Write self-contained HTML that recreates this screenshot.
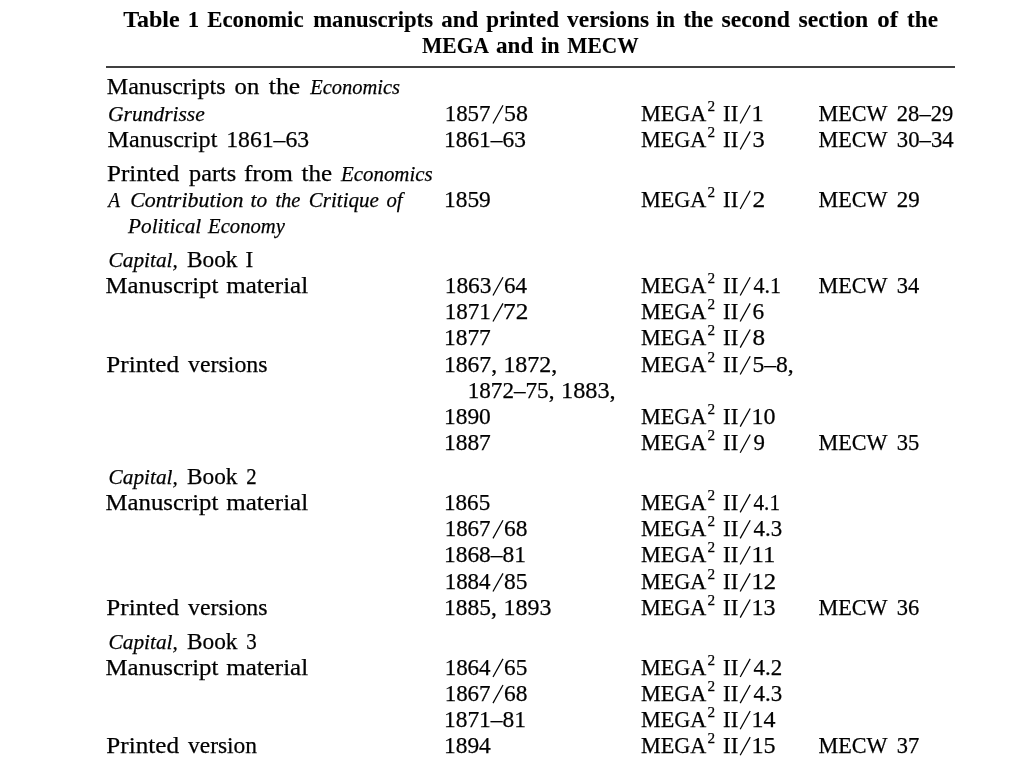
<!DOCTYPE html>
<html><head><meta charset="utf-8"><style>
html,body{margin:0;padding:0;background:#fff}
svg{position:absolute;left:0;top:0;will-change:transform}
text{font-family:"Liberation Serif",serif;font-size:23.5px;fill:#000;stroke:#000;stroke-width:0.25px;white-space:pre}
.b{font-weight:bold;stroke-width:0.1px}
.i{font-style:italic;font-size:21.8px}
.sup{font-size:15px}
html,body{width:1024px;height:768px;overflow:hidden}
</style></head><body>
<svg width="1024" height="768" viewBox="0 0 1024 768">
<rect x="106" y="66" width="849" height="2" fill="#404040"/>
<text x="123.20" y="26.50" class="b" textLength="56.41" lengthAdjust="spacingAndGlyphs">Table</text>
<text x="187.80" y="26.50" class="b" textLength="11.41" lengthAdjust="spacingAndGlyphs">1</text>
<text x="207.20" y="26.50" class="b" textLength="96.37" lengthAdjust="spacingAndGlyphs">Economic</text>
<text x="313.20" y="26.50" class="b" textLength="119.82" lengthAdjust="spacingAndGlyphs">manuscripts</text>
<text x="441.30" y="26.50" class="b" textLength="36.95" lengthAdjust="spacingAndGlyphs">and</text>
<text x="486.20" y="26.50" class="b" textLength="72.74" lengthAdjust="spacingAndGlyphs">printed</text>
<text x="567.10" y="26.50" class="b" textLength="81.96" lengthAdjust="spacingAndGlyphs">versions</text>
<text x="656.20" y="26.50" class="b" textLength="18.74" lengthAdjust="spacingAndGlyphs">in</text>
<text x="683.40" y="26.50" class="b" textLength="29.87" lengthAdjust="spacingAndGlyphs">the</text>
<text x="721.40" y="26.50" class="b" textLength="68.65" lengthAdjust="spacingAndGlyphs">second</text>
<text x="798.50" y="26.50" class="b" textLength="69.72" lengthAdjust="spacingAndGlyphs">section</text>
<text x="877.30" y="26.50" class="b" textLength="20.77" lengthAdjust="spacingAndGlyphs">of</text>
<text x="907.00" y="26.50" class="b" textLength="30.94" lengthAdjust="spacingAndGlyphs">the</text>
<text x="422.10" y="52.70" class="b" textLength="66.83" lengthAdjust="spacingAndGlyphs">MEGA</text>
<text x="496.00" y="52.70" class="b" textLength="37.23" lengthAdjust="spacingAndGlyphs">and</text>
<text x="541.10" y="52.70" class="b" textLength="18.45" lengthAdjust="spacingAndGlyphs">in</text>
<text x="567.30" y="52.70" class="b" textLength="71.26" lengthAdjust="spacingAndGlyphs">MECW</text>
<text x="106.80" y="94.00" class="r" textLength="118.75" lengthAdjust="spacingAndGlyphs">Manuscripts</text>
<text x="234.60" y="94.00" class="r" textLength="24.70" lengthAdjust="spacingAndGlyphs">on</text>
<text x="268.80" y="94.00" class="r" textLength="31.41" lengthAdjust="spacingAndGlyphs">the</text>
<text x="310.30" y="94.00" class="i" textLength="89.76" lengthAdjust="spacingAndGlyphs">Economics</text>
<text x="108.10" y="121.07" class="i" textLength="96.66" lengthAdjust="spacingAndGlyphs">Grundrisse</text>
<text x="444.70" y="121.07" class="r" textLength="45.81" lengthAdjust="spacingAndGlyphs">1857</text>
<line x1="493.00" y1="123.47" x2="503.00" y2="105.27" stroke="#000" stroke-width="1.25"/>
<text x="504.10" y="121.07" class="r" textLength="23.92" lengthAdjust="spacingAndGlyphs">58</text>
<text x="641.00" y="121.07" class="r" textLength="65.38" lengthAdjust="spacingAndGlyphs">MEGA</text>
<text x="707.50" y="111.07" class="sup" textLength="7.60" lengthAdjust="spacingAndGlyphs">2</text>
<text x="723.10" y="121.07" class="r" textLength="15.20" lengthAdjust="spacingAndGlyphs">II</text>
<line x1="740.20" y1="123.47" x2="750.20" y2="105.27" stroke="#000" stroke-width="1.25"/>
<text x="751.50" y="121.07" class="r" textLength="12.15" lengthAdjust="spacingAndGlyphs">1</text>
<text x="818.50" y="121.07" class="r" textLength="68.99" lengthAdjust="spacingAndGlyphs">MECW</text>
<text x="896.80" y="121.07" class="r" textLength="56.52" lengthAdjust="spacingAndGlyphs">28–29</text>
<text x="107.50" y="147.14" class="r" textLength="109.88" lengthAdjust="spacingAndGlyphs">Manuscript</text>
<text x="226.20" y="147.14" class="r" textLength="82.98" lengthAdjust="spacingAndGlyphs">1861–63</text>
<text x="444.00" y="147.14" class="r" textLength="81.90" lengthAdjust="spacingAndGlyphs">1861–63</text>
<text x="641.00" y="147.14" class="r" textLength="65.38" lengthAdjust="spacingAndGlyphs">MEGA</text>
<text x="707.50" y="137.14" class="sup" textLength="7.60" lengthAdjust="spacingAndGlyphs">2</text>
<text x="723.10" y="147.14" class="r" textLength="15.20" lengthAdjust="spacingAndGlyphs">II</text>
<line x1="740.20" y1="149.54" x2="750.20" y2="131.34" stroke="#000" stroke-width="1.25"/>
<text x="752.50" y="147.14" class="r" textLength="12.27" lengthAdjust="spacingAndGlyphs">3</text>
<text x="818.50" y="147.14" class="r" textLength="68.99" lengthAdjust="spacingAndGlyphs">MECW</text>
<text x="896.80" y="147.14" class="r" textLength="56.84" lengthAdjust="spacingAndGlyphs">30–34</text>
<text x="107.00" y="180.51" class="r" textLength="72.38" lengthAdjust="spacingAndGlyphs">Printed</text>
<text x="189.00" y="180.51" class="r" textLength="47.17" lengthAdjust="spacingAndGlyphs">parts</text>
<text x="243.90" y="180.51" class="r" textLength="48.99" lengthAdjust="spacingAndGlyphs">from</text>
<text x="301.50" y="180.51" class="r" textLength="30.65" lengthAdjust="spacingAndGlyphs">the</text>
<text x="341.00" y="180.51" class="i" textLength="91.64" lengthAdjust="spacingAndGlyphs">Economics</text>
<text x="108.20" y="206.58" class="i" textLength="11.77" lengthAdjust="spacingAndGlyphs">A</text>
<text x="130.25" y="206.58" class="i" textLength="113.23" lengthAdjust="spacingAndGlyphs">Contribution</text>
<text x="250.60" y="206.58" class="i" textLength="16.66" lengthAdjust="spacingAndGlyphs">to</text>
<text x="275.40" y="206.58" class="i" textLength="25.07" lengthAdjust="spacingAndGlyphs">the</text>
<text x="308.80" y="206.58" class="i" textLength="70.09" lengthAdjust="spacingAndGlyphs">Critique</text>
<text x="386.40" y="206.58" class="i" textLength="16.10" lengthAdjust="spacingAndGlyphs">of</text>
<text x="444.00" y="206.58" class="r" textLength="46.80" lengthAdjust="spacingAndGlyphs">1859</text>
<text x="641.00" y="206.58" class="r" textLength="65.38" lengthAdjust="spacingAndGlyphs">MEGA</text>
<text x="707.50" y="196.58" class="sup" textLength="7.60" lengthAdjust="spacingAndGlyphs">2</text>
<text x="723.10" y="206.58" class="r" textLength="15.20" lengthAdjust="spacingAndGlyphs">II</text>
<line x1="740.20" y1="208.98" x2="750.20" y2="190.78" stroke="#000" stroke-width="1.25"/>
<text x="752.50" y="206.58" class="r" textLength="12.75" lengthAdjust="spacingAndGlyphs">2</text>
<text x="818.50" y="206.58" class="r" textLength="68.99" lengthAdjust="spacingAndGlyphs">MECW</text>
<text x="896.80" y="206.58" class="r" textLength="22.95" lengthAdjust="spacingAndGlyphs">29</text>
<text x="128.10" y="232.65" class="i" textLength="73.16" lengthAdjust="spacingAndGlyphs">Political</text>
<text x="208.10" y="232.65" class="i" textLength="76.75" lengthAdjust="spacingAndGlyphs">Economy</text>
<text x="108.60" y="267.02" class="i" textLength="69.24" lengthAdjust="spacingAndGlyphs">Capital,</text>
<text x="187.00" y="267.02" class="r" textLength="50.49" lengthAdjust="spacingAndGlyphs">Book</text>
<text x="245.50" y="267.02" class="r" textLength="7.72" lengthAdjust="spacingAndGlyphs">I</text>
<text x="105.60" y="293.09" class="r" textLength="112.79" lengthAdjust="spacingAndGlyphs">Manuscript</text>
<text x="226.30" y="293.09" class="r" textLength="81.81" lengthAdjust="spacingAndGlyphs">material</text>
<text x="444.70" y="293.09" class="r" textLength="46.83" lengthAdjust="spacingAndGlyphs">1863</text>
<line x1="493.00" y1="295.49" x2="503.00" y2="277.29" stroke="#000" stroke-width="1.25"/>
<text x="504.10" y="293.09" class="r" textLength="22.97" lengthAdjust="spacingAndGlyphs">64</text>
<text x="641.00" y="293.09" class="r" textLength="65.38" lengthAdjust="spacingAndGlyphs">MEGA</text>
<text x="707.50" y="283.09" class="sup" textLength="7.60" lengthAdjust="spacingAndGlyphs">2</text>
<text x="723.10" y="293.09" class="r" textLength="15.20" lengthAdjust="spacingAndGlyphs">II</text>
<line x1="740.20" y1="295.49" x2="750.20" y2="277.29" stroke="#000" stroke-width="1.25"/>
<text x="753.50" y="293.09" class="r" textLength="27.49" lengthAdjust="spacingAndGlyphs">4.1</text>
<text x="818.50" y="293.09" class="r" textLength="68.99" lengthAdjust="spacingAndGlyphs">MECW</text>
<text x="896.80" y="293.09" class="r" textLength="22.50" lengthAdjust="spacingAndGlyphs">34</text>
<text x="444.70" y="319.16" class="r" textLength="46.12" lengthAdjust="spacingAndGlyphs">1871</text>
<line x1="493.00" y1="321.56" x2="503.00" y2="303.36" stroke="#000" stroke-width="1.25"/>
<text x="503.10" y="319.16" class="r" textLength="25.25" lengthAdjust="spacingAndGlyphs">72</text>
<text x="641.00" y="319.16" class="r" textLength="65.38" lengthAdjust="spacingAndGlyphs">MEGA</text>
<text x="707.50" y="309.16" class="sup" textLength="7.60" lengthAdjust="spacingAndGlyphs">2</text>
<text x="723.10" y="319.16" class="r" textLength="15.20" lengthAdjust="spacingAndGlyphs">II</text>
<line x1="740.20" y1="321.56" x2="750.20" y2="303.36" stroke="#000" stroke-width="1.25"/>
<text x="752.50" y="319.16" class="r" textLength="11.66" lengthAdjust="spacingAndGlyphs">6</text>
<text x="444.00" y="345.23" class="r" textLength="46.80" lengthAdjust="spacingAndGlyphs">1877</text>
<text x="641.00" y="345.23" class="r" textLength="65.38" lengthAdjust="spacingAndGlyphs">MEGA</text>
<text x="707.50" y="335.23" class="sup" textLength="7.60" lengthAdjust="spacingAndGlyphs">2</text>
<text x="723.10" y="345.23" class="r" textLength="15.20" lengthAdjust="spacingAndGlyphs">II</text>
<line x1="740.20" y1="347.63" x2="750.20" y2="329.43" stroke="#000" stroke-width="1.25"/>
<text x="752.50" y="345.23" class="r" textLength="12.59" lengthAdjust="spacingAndGlyphs">8</text>
<text x="106.30" y="372.10" class="r" textLength="72.69" lengthAdjust="spacingAndGlyphs">Printed</text>
<text x="188.10" y="372.10" class="r" textLength="79.38" lengthAdjust="spacingAndGlyphs">versions</text>
<text x="444.00" y="372.10" class="r" textLength="53.03" lengthAdjust="spacingAndGlyphs">1867,</text>
<text x="503.40" y="372.10" class="r" textLength="53.90" lengthAdjust="spacingAndGlyphs">1872,</text>
<text x="641.00" y="372.10" class="r" textLength="65.38" lengthAdjust="spacingAndGlyphs">MEGA</text>
<text x="707.50" y="362.10" class="sup" textLength="7.60" lengthAdjust="spacingAndGlyphs">2</text>
<text x="723.10" y="372.10" class="r" textLength="15.20" lengthAdjust="spacingAndGlyphs">II</text>
<line x1="740.20" y1="374.50" x2="750.20" y2="356.30" stroke="#000" stroke-width="1.25"/>
<text x="752.50" y="372.10" class="r" textLength="41.16" lengthAdjust="spacingAndGlyphs">5–8,</text>
<text x="467.70" y="398.17" class="r" textLength="86.77" lengthAdjust="spacingAndGlyphs">1872–75,</text>
<text x="561.00" y="398.17" class="r" textLength="54.68" lengthAdjust="spacingAndGlyphs">1883,</text>
<text x="444.00" y="424.24" class="r" textLength="46.80" lengthAdjust="spacingAndGlyphs">1890</text>
<text x="641.00" y="424.24" class="r" textLength="65.38" lengthAdjust="spacingAndGlyphs">MEGA</text>
<text x="707.50" y="414.24" class="sup" textLength="7.60" lengthAdjust="spacingAndGlyphs">2</text>
<text x="723.10" y="424.24" class="r" textLength="15.20" lengthAdjust="spacingAndGlyphs">II</text>
<line x1="740.20" y1="426.64" x2="750.20" y2="408.44" stroke="#000" stroke-width="1.25"/>
<text x="751.50" y="424.24" class="r" textLength="24.01" lengthAdjust="spacingAndGlyphs">10</text>
<text x="444.00" y="450.31" class="r" textLength="46.80" lengthAdjust="spacingAndGlyphs">1887</text>
<text x="641.00" y="450.31" class="r" textLength="65.38" lengthAdjust="spacingAndGlyphs">MEGA</text>
<text x="707.50" y="440.31" class="sup" textLength="7.60" lengthAdjust="spacingAndGlyphs">2</text>
<text x="723.10" y="450.31" class="r" textLength="15.20" lengthAdjust="spacingAndGlyphs">II</text>
<line x1="740.20" y1="452.71" x2="750.20" y2="434.51" stroke="#000" stroke-width="1.25"/>
<text x="753.50" y="450.31" class="r" textLength="11.44" lengthAdjust="spacingAndGlyphs">9</text>
<text x="818.50" y="450.31" class="r" textLength="68.99" lengthAdjust="spacingAndGlyphs">MECW</text>
<text x="896.80" y="450.31" class="r" textLength="22.55" lengthAdjust="spacingAndGlyphs">35</text>
<text x="108.60" y="483.88" class="i" textLength="69.24" lengthAdjust="spacingAndGlyphs">Capital,</text>
<text x="187.00" y="483.88" class="r" textLength="50.49" lengthAdjust="spacingAndGlyphs">Book</text>
<text x="246.20" y="483.88" class="r" textLength="10.41" lengthAdjust="spacingAndGlyphs">2</text>
<text x="105.60" y="509.95" class="r" textLength="112.79" lengthAdjust="spacingAndGlyphs">Manuscript</text>
<text x="226.30" y="509.95" class="r" textLength="81.81" lengthAdjust="spacingAndGlyphs">material</text>
<text x="444.00" y="509.95" class="r" textLength="46.19" lengthAdjust="spacingAndGlyphs">1865</text>
<text x="641.00" y="509.95" class="r" textLength="65.38" lengthAdjust="spacingAndGlyphs">MEGA</text>
<text x="707.50" y="499.95" class="sup" textLength="7.60" lengthAdjust="spacingAndGlyphs">2</text>
<text x="723.10" y="509.95" class="r" textLength="15.20" lengthAdjust="spacingAndGlyphs">II</text>
<line x1="740.20" y1="512.35" x2="750.20" y2="494.15" stroke="#000" stroke-width="1.25"/>
<text x="753.50" y="509.95" class="r" textLength="26.50" lengthAdjust="spacingAndGlyphs">4.1</text>
<text x="444.70" y="536.02" class="r" textLength="45.81" lengthAdjust="spacingAndGlyphs">1867</text>
<line x1="493.00" y1="538.42" x2="503.00" y2="520.22" stroke="#000" stroke-width="1.25"/>
<text x="504.10" y="536.02" class="r" textLength="23.42" lengthAdjust="spacingAndGlyphs">68</text>
<text x="641.00" y="536.02" class="r" textLength="65.38" lengthAdjust="spacingAndGlyphs">MEGA</text>
<text x="707.50" y="526.02" class="sup" textLength="7.60" lengthAdjust="spacingAndGlyphs">2</text>
<text x="723.10" y="536.02" class="r" textLength="15.20" lengthAdjust="spacingAndGlyphs">II</text>
<line x1="740.20" y1="538.42" x2="750.20" y2="520.22" stroke="#000" stroke-width="1.25"/>
<text x="753.50" y="536.02" class="r" textLength="28.62" lengthAdjust="spacingAndGlyphs">4.3</text>
<text x="444.00" y="562.09" class="r" textLength="81.89" lengthAdjust="spacingAndGlyphs">1868–81</text>
<text x="641.00" y="562.09" class="r" textLength="65.38" lengthAdjust="spacingAndGlyphs">MEGA</text>
<text x="707.50" y="552.09" class="sup" textLength="7.60" lengthAdjust="spacingAndGlyphs">2</text>
<text x="723.10" y="562.09" class="r" textLength="15.20" lengthAdjust="spacingAndGlyphs">II</text>
<line x1="740.20" y1="564.49" x2="750.20" y2="546.29" stroke="#000" stroke-width="1.25"/>
<text x="751.50" y="562.09" class="r" textLength="23.81" lengthAdjust="spacingAndGlyphs">11</text>
<text x="444.70" y="589.16" class="r" textLength="45.86" lengthAdjust="spacingAndGlyphs">1884</text>
<line x1="493.00" y1="591.56" x2="503.00" y2="573.36" stroke="#000" stroke-width="1.25"/>
<text x="504.10" y="589.16" class="r" textLength="23.42" lengthAdjust="spacingAndGlyphs">85</text>
<text x="641.00" y="589.16" class="r" textLength="65.38" lengthAdjust="spacingAndGlyphs">MEGA</text>
<text x="707.50" y="579.16" class="sup" textLength="7.60" lengthAdjust="spacingAndGlyphs">2</text>
<text x="723.10" y="589.16" class="r" textLength="15.20" lengthAdjust="spacingAndGlyphs">II</text>
<line x1="740.20" y1="591.56" x2="750.20" y2="573.36" stroke="#000" stroke-width="1.25"/>
<text x="751.50" y="589.16" class="r" textLength="24.67" lengthAdjust="spacingAndGlyphs">12</text>
<text x="106.30" y="615.23" class="r" textLength="72.69" lengthAdjust="spacingAndGlyphs">Printed</text>
<text x="188.10" y="615.23" class="r" textLength="79.38" lengthAdjust="spacingAndGlyphs">versions</text>
<text x="444.00" y="615.23" class="r" textLength="52.80" lengthAdjust="spacingAndGlyphs">1885,</text>
<text x="503.50" y="615.23" class="r" textLength="47.89" lengthAdjust="spacingAndGlyphs">1893</text>
<text x="641.00" y="615.23" class="r" textLength="65.38" lengthAdjust="spacingAndGlyphs">MEGA</text>
<text x="707.50" y="605.23" class="sup" textLength="7.60" lengthAdjust="spacingAndGlyphs">2</text>
<text x="723.10" y="615.23" class="r" textLength="15.20" lengthAdjust="spacingAndGlyphs">II</text>
<line x1="740.20" y1="617.63" x2="750.20" y2="599.43" stroke="#000" stroke-width="1.25"/>
<text x="751.50" y="615.23" class="r" textLength="24.05" lengthAdjust="spacingAndGlyphs">13</text>
<text x="818.50" y="615.23" class="r" textLength="68.99" lengthAdjust="spacingAndGlyphs">MECW</text>
<text x="896.80" y="615.23" class="r" textLength="22.51" lengthAdjust="spacingAndGlyphs">36</text>
<text x="108.60" y="648.60" class="i" textLength="69.24" lengthAdjust="spacingAndGlyphs">Capital,</text>
<text x="187.00" y="648.60" class="r" textLength="50.49" lengthAdjust="spacingAndGlyphs">Book</text>
<text x="246.20" y="648.60" class="r" textLength="10.47" lengthAdjust="spacingAndGlyphs">3</text>
<text x="105.60" y="674.67" class="r" textLength="112.79" lengthAdjust="spacingAndGlyphs">Manuscript</text>
<text x="226.30" y="674.67" class="r" textLength="81.81" lengthAdjust="spacingAndGlyphs">material</text>
<text x="444.70" y="674.67" class="r" textLength="45.86" lengthAdjust="spacingAndGlyphs">1864</text>
<line x1="493.00" y1="677.07" x2="503.00" y2="658.87" stroke="#000" stroke-width="1.25"/>
<text x="504.10" y="674.67" class="r" textLength="23.29" lengthAdjust="spacingAndGlyphs">65</text>
<text x="641.00" y="674.67" class="r" textLength="65.38" lengthAdjust="spacingAndGlyphs">MEGA</text>
<text x="707.50" y="664.67" class="sup" textLength="7.60" lengthAdjust="spacingAndGlyphs">2</text>
<text x="723.10" y="674.67" class="r" textLength="15.20" lengthAdjust="spacingAndGlyphs">II</text>
<line x1="740.20" y1="677.07" x2="750.20" y2="658.87" stroke="#000" stroke-width="1.25"/>
<text x="753.50" y="674.67" class="r" textLength="28.69" lengthAdjust="spacingAndGlyphs">4.2</text>
<text x="444.70" y="700.74" class="r" textLength="45.81" lengthAdjust="spacingAndGlyphs">1867</text>
<line x1="493.00" y1="703.14" x2="503.00" y2="684.94" stroke="#000" stroke-width="1.25"/>
<text x="504.10" y="700.74" class="r" textLength="23.42" lengthAdjust="spacingAndGlyphs">68</text>
<text x="641.00" y="700.74" class="r" textLength="65.38" lengthAdjust="spacingAndGlyphs">MEGA</text>
<text x="707.50" y="690.74" class="sup" textLength="7.60" lengthAdjust="spacingAndGlyphs">2</text>
<text x="723.10" y="700.74" class="r" textLength="15.20" lengthAdjust="spacingAndGlyphs">II</text>
<line x1="740.20" y1="703.14" x2="750.20" y2="684.94" stroke="#000" stroke-width="1.25"/>
<text x="753.50" y="700.74" class="r" textLength="28.62" lengthAdjust="spacingAndGlyphs">4.3</text>
<text x="444.00" y="726.81" class="r" textLength="81.89" lengthAdjust="spacingAndGlyphs">1871–81</text>
<text x="641.00" y="726.81" class="r" textLength="65.38" lengthAdjust="spacingAndGlyphs">MEGA</text>
<text x="707.50" y="716.81" class="sup" textLength="7.60" lengthAdjust="spacingAndGlyphs">2</text>
<text x="723.10" y="726.81" class="r" textLength="15.20" lengthAdjust="spacingAndGlyphs">II</text>
<line x1="740.20" y1="729.21" x2="750.20" y2="711.01" stroke="#000" stroke-width="1.25"/>
<text x="751.50" y="726.81" class="r" textLength="23.94" lengthAdjust="spacingAndGlyphs">14</text>
<text x="106.30" y="752.88" class="r" textLength="72.69" lengthAdjust="spacingAndGlyphs">Printed</text>
<text x="188.10" y="752.88" class="r" textLength="68.96" lengthAdjust="spacingAndGlyphs">version</text>
<text x="444.00" y="752.88" class="r" textLength="46.80" lengthAdjust="spacingAndGlyphs">1894</text>
<text x="641.00" y="752.88" class="r" textLength="65.38" lengthAdjust="spacingAndGlyphs">MEGA</text>
<text x="707.50" y="742.88" class="sup" textLength="7.60" lengthAdjust="spacingAndGlyphs">2</text>
<text x="723.10" y="752.88" class="r" textLength="15.20" lengthAdjust="spacingAndGlyphs">II</text>
<line x1="740.20" y1="755.28" x2="750.20" y2="737.08" stroke="#000" stroke-width="1.25"/>
<text x="751.50" y="752.88" class="r" textLength="24.13" lengthAdjust="spacingAndGlyphs">15</text>
<text x="818.50" y="752.88" class="r" textLength="68.99" lengthAdjust="spacingAndGlyphs">MECW</text>
<text x="896.80" y="752.88" class="r" textLength="22.46" lengthAdjust="spacingAndGlyphs">37</text>
</svg>
</body></html>
